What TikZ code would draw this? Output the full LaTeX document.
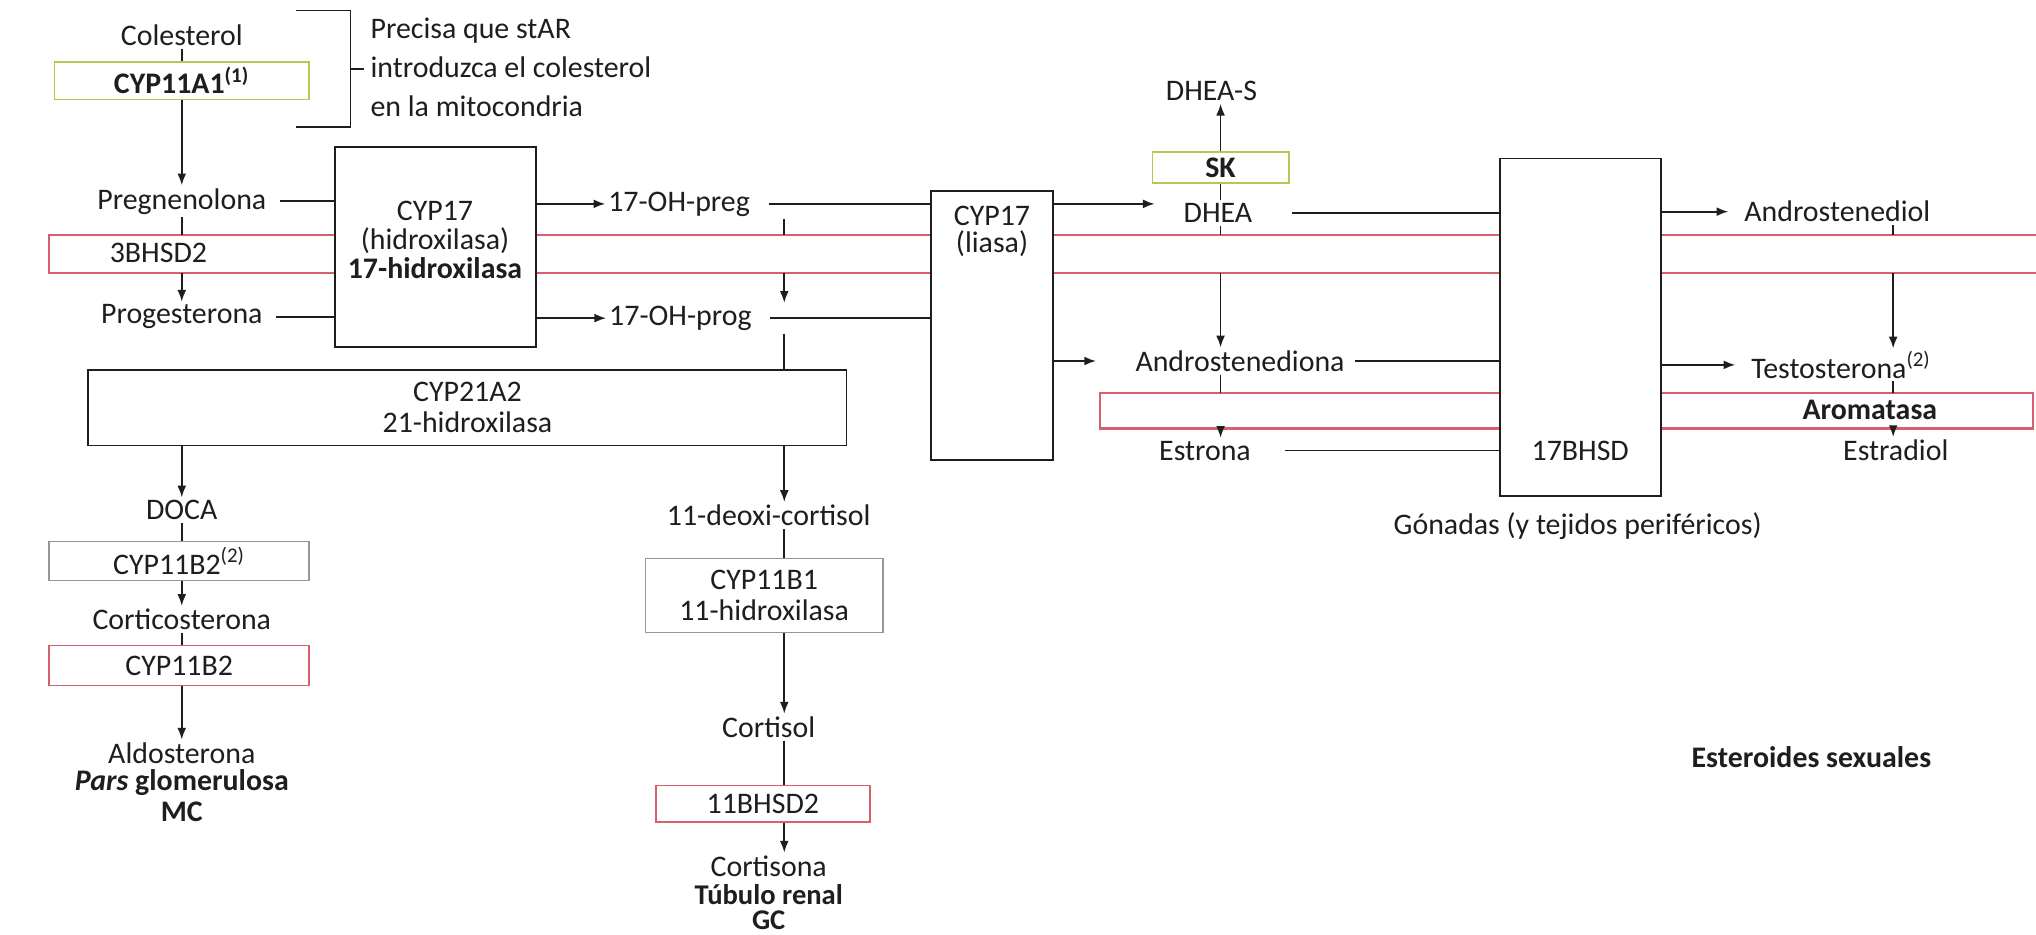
\documentclass[tikz,border=0pt]{standalone}
\usepackage{fontspec}
\setmainfont{Carlito}
\usetikzlibrary{arrows.meta}
\definecolor{bandred}{RGB}{214,96,108}
\definecolor{limeb}{RGB}{186,198,82}
\definecolor{ink}{RGB}{30,30,30}
\definecolor{boxgray}{RGB}{150,150,150}
\begin{document}
\begin{tikzpicture}[x=0.5pt,y=-0.5pt,
  txt/.style={font=\fontsize{11.5}{14}\selectfont, text=ink, inner sep=1pt},
  btxt/.style={font=\fontsize{11.5}{14}\selectfont\bfseries, text=ink, inner sep=1pt},
  box/.style={draw=ink, line width=0.65pt, fill=white, inner sep=0pt, align=center, font=\fontsize{11.5}{12}\selectfont, text=ink},
  ln/.style={draw=ink, line width=0.65pt},
  arr/.style={draw=ink, line width=0.65pt, -{Latex[length=4.5pt,width=3.4pt]}},
  bandline/.style={draw=bandred, line width=0.8pt}]
\useasboundingbox (0,0) rectangle (1568,720);
\fill[white] (0,0) rectangle (1568,720);
% column guides and band edges
\coordinate (lcol) at (140,0);
\coordinate (mcol) at (604,0);
\coordinate (scol) at (940,0);
\coordinate (rcol) at (1458,0);
\coordinate (bandtop) at (0,181);
\coordinate (bandbot) at (0,210);
\coordinate (aromtop) at (0,303);
\coordinate (arombot) at (0,330);
% red bands (3BHSD2 and Aromatasa)
\draw[bandline] (1600,181) -- (38,181) -- (38,210) -- (1600,210);
\draw[bandline] (847,303) rectangle (1566,330);
\node[txt] (bhsd3) at (122,195) {3BHSD2};
\node[btxt] (arom) at (1440,316) {Aromatasa};
% top left
\node[txt] (col) at (140,27) {Colesterol};
\node[box, draw=limeb, minimum width=98pt, minimum height=14.5pt, font=\fontsize{11.5}{12}\selectfont\bfseries] (cyp11a1) at (140,62) {CYP11A1\textsuperscript{(1)}};
\draw[ln] (228,8) -- (270,8) -- (270,98) -- (228,98);
\draw[ln] (270,53) -- (280,53);
\node[txt, anchor=west, align=left, font=\fontsize{11.5}{15}\selectfont] (star) at (283,52) {Precisa que stAR\\introduzca el colesterol\\en la mitocondria};
\node[txt] (preg) at (140,155) {Pregnenolona};
\node[txt] (prog) at (140,244) {Progesterona};
% CYP17 hidroxilasa
\node[box, minimum width=77.5pt, minimum height=77pt] (cyp17h) at (335.5,190) {};
\node[txt, align=center, font=\fontsize{11.5}{11.2}\selectfont] (cyp17ht) at (335,185) {CYP17\\(hidroxilasa)\\\textbf{17-hidroxilasa}};
\node[txt] (ohpreg) at (523,157) {17-OH-preg};
\node[txt] (ohprog) at (524,245) {17-OH-prog};
% CYP17 liasa
\node[box, minimum width=47pt, minimum height=103.5pt] (liasa) at (764,250.5) {};
\node[txt, align=center, font=\fontsize{11.5}{10.5}\selectfont] (liasat) at (764,178) {CYP17\\(liasa)};
% DHEA column
\node[txt] (dheas) at (933,70) {DHEA-S};
\node[box, draw=limeb, minimum width=52.5pt, minimum height=12pt, font=\fontsize{11.5}{12}\selectfont\bfseries] (sk) at (940,129) {SK};
\node[txt] (dhea) at (938,164) {DHEA};
\node[txt] (andro) at (955,278) {Androstenediona};
\node[txt] (estrona) at (928,347) {Estrona};
% 17BHSD
\node[box, minimum width=62pt, minimum height=130pt] (bhsd17) at (1217,252) {};
\node[txt] (bhsd17t) at (1217,347) {17BHSD};
\node[txt] (gonadas) at (1215,405) {Gónadas (y tejidos periféricos)};
% right column
\node[txt] (androdiol) at (1415,163) {Androstenediol};
\node[txt] (testo) at (1418,281) {Testosterona\textsuperscript{(2)}};
\node[txt] (estradiol) at (1460,347) {Estradiol};
\node[btxt] (esteroides) at (1395,583) {Esteroides sexuales};
% CYP21A2
\node[box, minimum width=292pt, minimum height=29pt] (cyp21) at (360,314) {CYP21A2\\21-hidroxilasa};
% mineralocorticoid branch
\node[txt] (doca) at (140,393) {DOCA};
\node[box, draw=boxgray, minimum width=100pt, minimum height=15pt] (cyp11b2a) at (138,432) {CYP11B2\textsuperscript{(2)}};
\node[txt] (cortico) at (140,477) {Corticosterona};
\node[box, draw=bandred, minimum width=100pt, minimum height=15.5pt] (cyp11b2) at (138,512.5) {CYP11B2};
\node[txt] (aldo) at (140,580) {Aldosterona};
\node[btxt] (pars) at (140,603) {\textit{Pars} glomerulosa};
\node[btxt] (mc) at (140,625) {MC};
% glucocorticoid branch
\node[txt] (deoxi) at (592,397) {11-deoxi-cortisol};
\node[box, draw=boxgray, minimum width=91.5pt, minimum height=28.5pt] (cyp11b1) at (588.5,458.5) {CYP11B1\\11-hidroxilasa};
\node[txt] (cortisol) at (592,560) {Cortisol};
\node[box, draw=bandred, minimum width=82.5pt, minimum height=14pt] (hsd11b2) at (587.5,619) {11BHSD2};
\node[txt] (cortisona) at (592,667) {Cortisona};
\node[btxt, font=\fontsize{11}{12}\selectfont\bfseries] (tubulo) at (592,689) {Túbulo renal};
\node[btxt, font=\fontsize{11}{12}\selectfont\bfseries] (gc) at (592,709) {GC};
% connectors: left column
\draw[ln] (col.south -| lcol) -- (cyp11a1.north -| lcol);
\draw[arr] (cyp11a1.south -| lcol) -- (preg.north -| lcol);
\draw[ln] (preg.south -| lcol) -- (bandtop -| lcol);
\draw[arr] (bandbot -| lcol) -- (prog.north -| lcol);
\draw[ln, shorten <=4pt] (preg.east) -- (preg.east -| cyp17h.west);
\draw[ln, shorten <=4pt] (prog.east) -- (prog.east -| cyp17h.west);
\draw[arr] (cyp17h.east |- ohpreg) -- (ohpreg.west);
\draw[arr] (cyp17h.east |- ohprog) -- (ohprog.west);
\draw[ln, shorten <=6pt] (ohpreg.east) -- (ohpreg.east -| liasa.west);
\draw[ln, shorten <=6pt] (ohprog.east) -- (ohprog.east -| liasa.west);
\draw[ln] (ohpreg.south -| mcol) -- (bandtop -| mcol);
\draw[arr] (bandbot -| mcol) -- (ohprog.north -| mcol);
\draw[ln] (ohprog.south -| mcol) -- (cyp21.north -| mcol);
\draw[arr] (cyp21.south -| lcol) -- (doca.north -| lcol);
\draw[arr] (cyp21.south -| mcol) -- (deoxi.north -| mcol);
% mineralocorticoids
\draw[ln] (doca.south -| lcol) -- (cyp11b2a.north -| lcol);
\draw[arr] (cyp11b2a.south -| lcol) -- (cortico.north -| lcol);
\draw[ln] (cortico.south -| lcol) -- (cyp11b2.north -| lcol);
\draw[arr] (cyp11b2.south -| lcol) -- (aldo.north -| lcol);
% glucocorticoids
\draw[ln] (deoxi.south -| mcol) -- (cyp11b1.north -| mcol);
\draw[arr] (cyp11b1.south -| mcol) -- (cortisol.north -| mcol);
\draw[ln] (cortisol.south -| mcol) -- (hsd11b2.north -| mcol);
\draw[arr] (hsd11b2.south -| mcol) -- (cortisona.north -| mcol);
% liasa outputs
\draw[arr, shorten >=10pt] (liasa.east |- ohpreg) -- (dhea.west |- ohpreg);
\draw[arr, shorten >=14pt] (liasa.east |- andro) -- (andro.west);
\draw[ln] (dhea.north -| scol) -- (sk.south -| scol);
\draw[arr] (sk.north -| scol) -- (dheas.south -| scol);
\draw[ln] (dhea.south -| scol) -- (bandtop -| scol);
\draw[arr] (bandbot -| scol) -- (andro.north -| scol);
\draw[ln] (andro.south -| scol) -- (aromtop -| scol);
\draw[arr] (arombot -| scol) -- (estrona.north -| scol);
\draw[ln, shorten <=14pt] (dhea.east) -- (dhea.east -| bhsd17.west);
\draw[ln, shorten <=3pt] (andro.east) -- (andro.east -| bhsd17.west);
\draw[ln, shorten <=12pt] (estrona.east) -- (estrona.east -| bhsd17.west);
% 17BHSD outputs
\draw[arr, shorten >=5pt] (bhsd17.east |- androdiol) -- (androdiol.west);
\draw[arr, shorten >=5pt] (bhsd17.east |- testo) -- (testo.west);
\draw[ln] (androdiol.south -| rcol) -- (bandtop -| rcol);
\draw[arr] (bandbot -| rcol) -- (testo.north -| rcol);
\draw[ln] (testo.south -| rcol) -- (aromtop -| rcol);
\draw[arr] (arombot -| rcol) -- (estradiol.north -| rcol);
\end{tikzpicture}
\end{document}
